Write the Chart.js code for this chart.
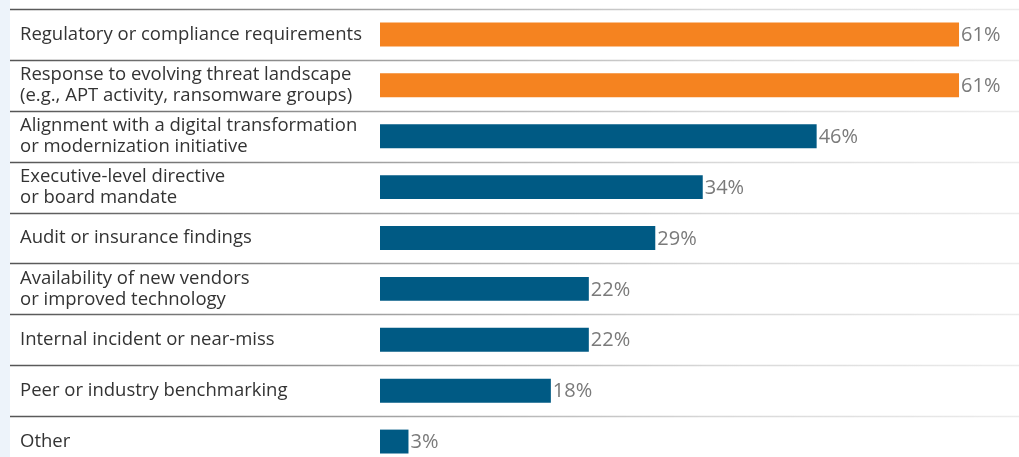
<!DOCTYPE html>
<html>
<head>
<meta charset="utf-8">
<script src="https://cdn.jsdelivr.net/npm/chart.js@4/dist/chart.umd.min.js"></script>
<style>
  html, body { margin: 0; padding: 0; overflow: hidden; background: #edf3fa; }
  #wrap { position: absolute; left: 0; top: 0; width: 1019px; height: 467px; }
</style>
</head>
<body>
<div id="wrap"><canvas id="driversChart" width="1019" height="467"></canvas></div>
<script>
// Categorias y valores (%)
var categories = [
  'Regulatory or compliance requirements',
  ['Response to evolving threat landscape', '(e.g., APT activity, ransomware groups)'],
  ['Alignment with a digital transformation', 'or modernization initiative'],
  ['Executive-level directive', 'or board mandate'],
  'Audit or insurance findings',
  ['Availability of new vendors', 'or improved technology'],
  'Internal incident or near-miss',
  'Peer or industry benchmarking',
  'Other'
];
var values = [61, 61, 46, 34, 29, 22, 22, 18, 3];
var topCount = 2; // barras destacadas en naranja

var ORANGE = '#f58320';
var BLUE = '#005a84';

// fondo blanco + lineas separadoras
var rowsPlugin = {
  id: 'rows',
  beforeDraw: function (chart) {
    var ctx = chart.ctx;
    var y = chart.scales.y;
    ctx.save();
    ctx.fillStyle = '#ffffff';
    ctx.fillRect(10, 0, chart.width - 10, chart.height);
    var grad = ctx.createLinearGradient(10, 0, chart.width, 0);
    grad.addColorStop(0, '#555555');
    grad.addColorStop(0.36, '#a0a0a0');
    grad.addColorStop(0.7, '#d8d8d8');
    grad.addColorStop(1, '#ececec');
    ctx.strokeStyle = grad;
    ctx.lineWidth = 1.6;
    var half = (y.getPixelForValue(1) - y.getPixelForValue(0)) / 2;
    for (var i = 0; i < categories.length; i++) {
      var py = Math.round(y.getPixelForValue(i) - half) + 0.5;
      ctx.beginPath();
      ctx.moveTo(10, py);
      ctx.lineTo(chart.width, py);
      ctx.stroke();
    }
    ctx.restore();
  }
};

// etiquetas de valor
var valueLabels = {
  id: 'valueLabels',
  afterDatasetsDraw: function (chart) {
    var ctx = chart.ctx;
    var meta = chart.getDatasetMeta(0);
    ctx.save();
    ctx.font = '20px "Open Sans", sans-serif';
    ctx.fillStyle = '#7a7a7a';
    ctx.textAlign = 'left';
    ctx.textBaseline = 'middle';
    meta.data.forEach(function (bar, i) {
      ctx.fillText(values[i] + '%', bar.x + 2, bar.y + 1);
    });
    ctx.restore();
  }
};

var chart = new Chart(document.getElementById('driversChart').getContext('2d'), {
  type: 'bar',
  data: {
    labels: categories,
    datasets: [{
      data: values,
      backgroundColor: function (c) { return c.dataIndex < topCount ? ORANGE : BLUE; },
      barPercentage: 0.47,
      categoryPercentage: 1
    }]
  },
  options: {
    indexAxis: 'y',
    responsive: false,
    animation: false,
    layout: { padding: { left: 20, right: 22, top: 9, bottom: 0 } },
    plugins: { legend: { display: false }, tooltip: { enabled: false } },
    scales: {
      x: { display: false, min: 0, max: 65 },
      y: {
        grid: { display: false },
        border: { display: false },
        afterFit: function (s) {
          s.width = 360;
          s.paddingTop = 0;
          s.paddingBottom = 0;
        },
        ticks: {
          crossAlign: 'far',
          color: '#333333',
          font: { family: '"Open Sans", sans-serif', size: 18.5, lineHeight: 1.15 }
        }
      }
    }
  },
  plugins: [rowsPlugin, valueLabels]
});
</script>
</body>
</html>
